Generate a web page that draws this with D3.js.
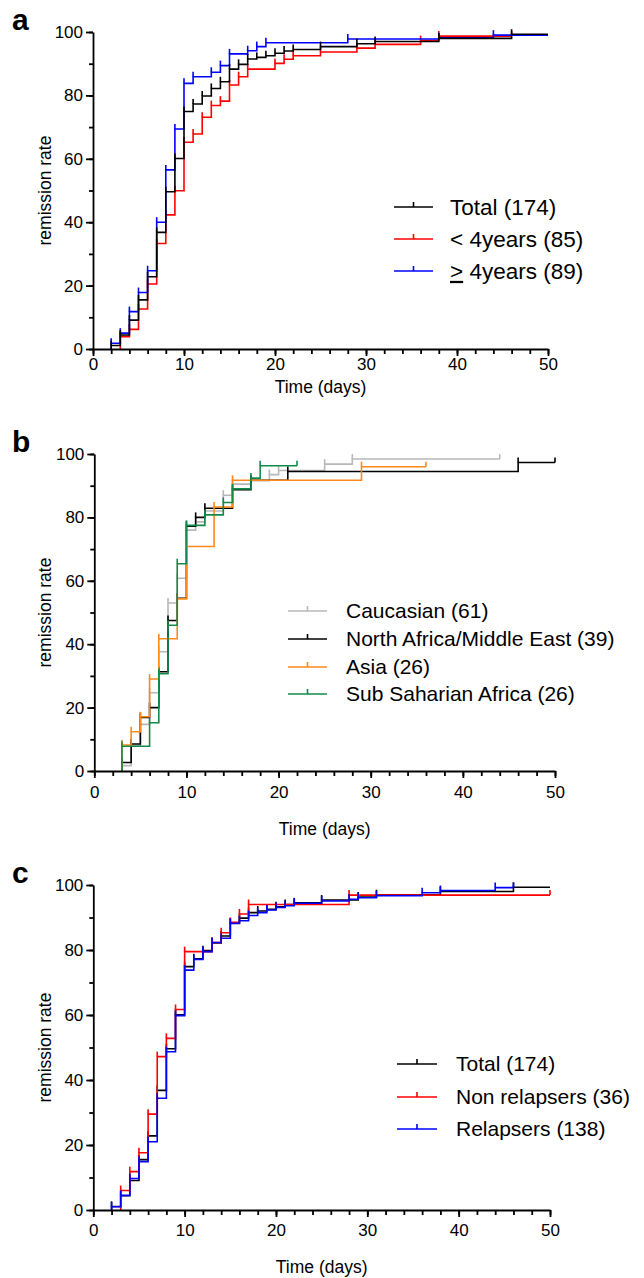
<!DOCTYPE html>
<html lang="en">
<head>
<meta charset="UTF-8">
<title>remission rate</title>
<script src="https://d3js.org/d3.v7.min.js"></script>
<style>
  body { margin: 0; background: #fff; }
  svg { display: block; font-family: "Liberation Sans", Arial, sans-serif; }
</style>
</head>
<body>
<svg id="chart" width="644" height="1278"></svg>
<script>
// step points [day, remission rate %]
const totalSteps = [[2,1.1],[3,4.4],[4,9.1],[5,15.5],[6,22.8],[7,36.8],[8,49.6],[9,60.1],[10,74.9],[11,77.3],[12,79.8],[13,82.2],[14,84.3],[15,88.3],[16,89.8],[17,91.5],[18,92],[19,92.5],[20,93.3],[21,94],[22,94.5],[25,95.4],[29,96.3],[31,97],[38,98],[46,99.3]];
const under4Steps = [[3,3.9],[4,6.2],[5,12.6],[6,20.5],[7,33.3],[8,42.3],[9,49.9],[10,65.2],[11,67.8],[12,73.1],[13,76.8],[14,78.2],[15,83.3],[16,85.9],[17,88.3],[20,90.1],[21,91.4],[22,92.5],[25,93.7],[29,94.9],[31,96.1],[36,97.3],[38,98.7]];
const over4Steps = [[2,1.8],[3,5],[4,11.8],[5,17.8],[6,24.7],[7,40],[8,56.5],[9,69.4],[10,83.8],[11,85.9],[13,87.3],[14,89.4],[15,93.1],[17,94.1],[18,95.4],[19,96.6],[28,97.8],[38,98.2],[44,99]];

const caucasianSteps = [[3,1.7],[4,8],[5,14.7],[6,24.7],[7,37.6],[8,53],[9,60.8],[10,76],[11,78.6],[12,82],[14,87],[15,90.5],[17,91.6],[19,93.5],[20,94.8],[25,96.8],[28,98.4]];
const northAfricaSteps = [[3,2.7],[4,8.5],[5,16.9],[6,20],[7,31.3],[8,47.5],[9,54.5],[10,77.2],[11,80],[12,82.9],[15,88.7],[17,91.7],[21,94.5],[46,97.3]];
const asiaSteps = [[3,8.2],[4,12.4],[5,17.1],[6,29],[7,41.7],[9,54.3],[10,70.8],[13,83.3],[15,91.7],[29,96]];
const subSaharanSteps = [[3,7.8],[6,15.2],[7,30.7],[8,46],[9,65.4],[10,77.5],[12,80.8],[14,84.7],[15,89],[17,92.4],[18,96.3]];

const nonRelapserSteps = [[3,6],[4,11.8],[5,17.6],[6,29.5],[7,47.2],[8,52.8],[9,61.7],[10,79.5],[13,82.3],[14,85.3],[15,88.5],[16,91.1],[17,94],[28,96.9]];
const relapserSteps = [[2,1],[3,4.5],[4,9.7],[5,14.9],[6,21],[7,34.4],[8,48.7],[9,59.8],[10,73.8],[11,77.1],[12,79.5],[13,82.3],[14,83.6],[15,88.2],[16,89],[17,90.6],[18,91.5],[19,92.3],[20,93.1],[21,93.6],[22,94.4],[25,95.1],[28,95.6],[29,96.1],[31,96.7],[36,97.6],[38,98.3],[44,99.2]];

// last day of follow-up for each curve
const seriesEnd = {total: 50, under4: 46, over4: 50, caucasian: 44, northAfrica: 50, asia: 36, subSaharan: 22, nonRelapser: 50, relapser: 46};

const xTicks = [0, 10, 20, 30, 40, 50];
const yTicks = [0, 20, 40, 60, 80, 100];

const svg = d3.select("#chart");

const panels = [
  {
    letter: "a", left: 93, right: 548, top: 32, bottom: 349, labelPad: 2, titleY: 393, legendSize: 22.5,
    series: [
      {steps: under4Steps, end: seriesEnd.under4, color: "#ff0000", endTick: true},
      {steps: over4Steps, end: seriesEnd.over4, color: "#0000ff"},
      {steps: totalSteps, end: seriesEnd.total, color: "#000000"}
    ],
    legend: {x1: 394, x2: 433, tx: 450, ys: [207, 239, 271], items: [
      {label: "Total (174)", color: "#000000"},
      {label: "< 4years (85)", color: "#ff0000"},
      {label: "ge", color: "#0000ff"}
    ]}
  },
  {
    letter: "b", left: 94.3, right: 555, top: 454, bottom: 771, labelPad: 8, titleY: 835, legendSize: 21,
    series: [
      {steps: caucasianSteps, end: seriesEnd.caucasian, color: "#b8b8b8", endTick: true},
      {steps: northAfricaSteps, end: seriesEnd.northAfrica, color: "#000000", endTick: true},
      {steps: asiaSteps, end: seriesEnd.asia, color: "#ff8a1a", endTick: true},
      {steps: subSaharanSteps, end: seriesEnd.subSaharan, color: "#138a4a", endTick: true}
    ],
    legend: {x1: 288, x2: 327, tx: 346, ys: [611, 639, 667, 694], items: [
      {label: "Caucasian (61)", color: "#b8b8b8"},
      {label: "North Africa/Middle East (39)", color: "#000000"},
      {label: "Asia (26)", color: "#ff8a1a"},
      {label: "Sub Saharian Africa (26)", color: "#138a4a"}
    ]}
  },
  {
    letter: "c", left: 93.3, right: 550, top: 885, bottom: 1210, labelPad: 7, titleY: 1273, legendSize: 21,
    series: [
      {steps: totalSteps, end: seriesEnd.total, color: "#000000"},
      {steps: nonRelapserSteps, end: seriesEnd.nonRelapser, color: "#ff0000", endTick: true},
      {steps: relapserSteps, end: seriesEnd.relapser, color: "#0000ff", endTick: true}
    ],
    legend: {x1: 397, x2: 437, tx: 456, ys: [1064, 1097, 1129], items: [
      {label: "Total (174)", color: "#000000"},
      {label: "Non relapsers (36)", color: "#ff0000"},
      {label: "Relapsers (138)", color: "#0000ff"}
    ]}
  }
];

function drawPanel(p) {
  const x = d3.scaleLinear().domain([0, 50]).range([p.left, p.right]);
  const y = d3.scaleLinear().domain([0, 100]).range([p.bottom, p.top]);
  const g = svg.append("g");

  const line = d3.line()
    .x(d => x(d[0]))
    .y(d => y(d[1]))
    .curve(d3.curveStepAfter);

  p.series.forEach(s => {
    const last = s.steps[s.steps.length - 1][1];
    const pts = [[s.steps[0][0], 0]].concat(s.steps, [[s.end, last]]);
    g.append("path")
      .attr("d", line(pts))
      .attr("fill", "none")
      .attr("stroke", s.color)
      .attr("stroke-width", 1.6);

    // censor marks
    const marks = s.steps.slice();
    if (s.endTick) marks.push([s.end, last]);
    g.selectAll(null).data(marks).join("line")
      .attr("x1", d => x(d[0])).attr("x2", d => x(d[0]))
      .attr("y1", d => y(d[1])).attr("y2", d => y(d[1]) - 5)
      .attr("stroke", s.color)
      .attr("stroke-width", 1.6);
  });

  // axes: minor then major ticks
  const yMinor = g.append("g").attr("transform", `translate(${p.left},0)`)
    .call(d3.axisLeft(y).tickValues(d3.range(0, 101, 10)).tickSize(4).tickFormat(""));
  yMinor.select(".domain").remove();
  const yAxis = g.append("g").attr("transform", `translate(${p.left},0)`)
    .call(d3.axisLeft(y).tickValues(yTicks).tickSize(7).tickSizeOuter(0).tickPadding(3));

  const xMinor = g.append("g").attr("transform", `translate(0,${p.bottom})`)
    .call(d3.axisBottom(x).tickValues(d3.range(0, 51, 2)).tickSize(5).tickFormat(""));
  xMinor.select(".domain").remove();
  const xAxis = g.append("g").attr("transform", `translate(0,${p.bottom})`)
    .call(d3.axisBottom(x).tickValues(xTicks).tickSize(7).tickSizeOuter(0).tickPadding(p.labelPad));

  g.selectAll(".domain, .tick line").attr("stroke", "#000").attr("stroke-width", 1.8);
  yAxis.selectAll("text").style("font-size", "17px").attr("fill", "#000").style("font-family", "'Liberation Sans', Arial, sans-serif");
  xAxis.selectAll("text").style("font-size", "17px").attr("fill", "#000").style("font-family", "'Liberation Sans', Arial, sans-serif");

  // axis titles
  g.append("text")
    .attr("transform", `translate(45,${(p.top + p.bottom) / 2}) rotate(-90)`)
    .attr("text-anchor", "middle")
    .attr("dy", "0.35em")
    .style("font-size", "17.5px")
    .text("remission rate");
  g.append("text")
    .attr("x", (p.left + p.right) / 2)
    .attr("y", p.titleY)
    .attr("text-anchor", "middle")
    .style("font-size", "17.5px")
    .text("Time (days)");

  // panel letter
  g.append("text")
    .attr("x", 12).attr("y", p.top - 2)
    .style("font-size", "30px").style("font-weight", "bold")
    .text(p.letter);

  // legend
  const lg = p.legend;
  lg.items.forEach((it, i) => {
    const ly = lg.ys[i];
    g.append("line").attr("x1", lg.x1).attr("x2", lg.x2).attr("y1", ly).attr("y2", ly)
      .attr("stroke", it.color).attr("stroke-width", 1.6);
    g.append("line").attr("x1", (lg.x1 + lg.x2) / 2).attr("x2", (lg.x1 + lg.x2) / 2)
      .attr("y1", ly).attr("y2", ly - 5)
      .attr("stroke", it.color).attr("stroke-width", 1.6);
    const t = g.append("text").attr("x", lg.tx).attr("y", ly).attr("dy", "0.35em")
      .style("font-size", p.legendSize + "px");
    if (it.label === "ge") {
      t.append("tspan").style("text-decoration", "underline").text(">");
      t.append("tspan").text(" 4years (89)");
    } else {
      t.text(it.label);
    }
  });
}

panels.forEach(drawPanel);
</script>
</body>
</html>
